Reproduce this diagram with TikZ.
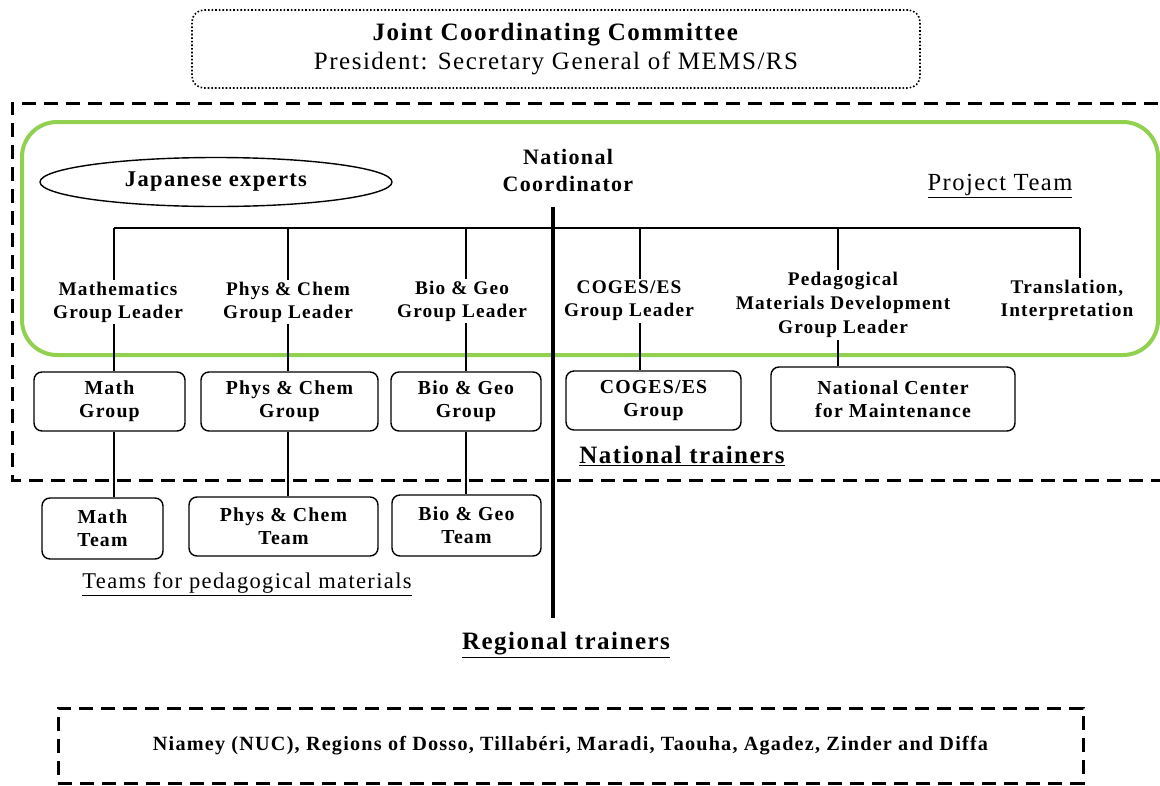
\documentclass[tikz,border=0pt]{standalone}
\usepackage{fontspec}
\setmainfont{Liberation Serif}[LetterSpace=6]
\usetikzlibrary{shapes.geometric, positioning}
\definecolor{teamgreen}{RGB}{146,208,80}
\tikzset{
    leader/.style={align=center, inner sep=2pt, font=\fontsize{19.3}{23}\selectfont\bfseries},
    groupbox/.style={rectangle, rounded corners=8pt, draw, line width=1.4pt, align=center, inner sep=2pt, font=\fontsize{19.8}{23}\selectfont\bfseries},
    conn/.style={line width=1.3pt},
    ncline/.style={line width=4.5pt},
    dashframe/.style={line width=3pt, dash pattern=on 14pt off 8pt},
    teamframe/.style={draw=teamgreen, line width=4pt, rounded corners=35pt},
    heading/.style={inner sep=1pt, font=\fontsize{25}{28}\selectfont\bfseries},
}

\begin{document}
\begin{tikzpicture}[x=1pt, y=-1pt]
\useasboundingbox (0,0) rectangle (1160,785);

% Committee at the top
\node[rectangle, draw, dotted, line width=1.6pt, rounded corners=12pt, minimum width=728pt, minimum height=78pt, align=center, font=\fontsize{25}{29}\selectfont] (jcc) at (556,49) {\textbf{Joint Coordinating Committee}\\President: Secretary General of MEMS/RS};

% National trainers frame and project team frame
\draw[dashframe] (1180,103) -- (12,103) -- (12,480) -- (1180,480);
\draw[teamframe] (22,122) rectangle (1158,355);

% Project team
\node[ellipse, draw, line width=1.4pt, minimum width=352pt, minimum height=49pt, font=\fontsize{22.5}{25}\selectfont\bfseries] (jpexp) at (216,182) {Japanese experts};
\node[leader, font=\fontsize{22}{27}\selectfont\bfseries] (natcoord) at (568,170) {National\\Coordinator};
\node[inner sep=1pt, font=\fontsize{24.6}{28}\selectfont] (projteam) at (1000,186) {\underline{Project Team}};

\node[leader] (mathlead) at (118,302) {Mathematics\\Group Leader};
\node[leader] (physlead) at (288,302) {Phys \& Chem\\Group Leader};
\node[leader] (biolead) at (462,301) {Bio \& Geo\\Group Leader};
\node[leader] (cogeslead) at (629,301) {COGES/ES\\Group Leader};
\node[leader, font=\fontsize{19.3}{24}\selectfont\bfseries] (pedalead) at (843,305) {Pedagogical\\Materials Development\\Group Leader};
\node[leader] (translead) at (1067,300) {Translation,\\Interpretation};

% Groups
\node[groupbox, minimum width=151pt, minimum height=59pt] (mathgroup) at (109.5,401.5) {Math\\Group};
\node[groupbox, minimum width=177pt, minimum height=59pt] (physgroup) at (289.5,401.5) {Phys \& Chem\\Group};
\node[groupbox, minimum width=150pt, minimum height=59pt] (biogroup) at (466,401.5) {Bio \& Geo\\Group};
\node[groupbox, minimum width=175pt, minimum height=59pt] (cogesgroup) at (653.5,400.5) {COGES/ES\\Group};
\node[groupbox, minimum width=244pt, minimum height=64pt] (natcenter) at (893,399) {National Center\\for Maintenance};

% Teams
\node[groupbox, minimum width=121pt, minimum height=61pt] (mathteam) at (102.5,528.5) {Math\\Team};
\node[groupbox, minimum width=189pt, minimum height=59pt] (physteam) at (283.5,526.5) {Phys \& Chem\\Team};
\node[groupbox, minimum width=149pt, minimum height=61pt] (bioteam) at (466.5,525.5) {Bio \& Geo\\Team};

% Labels
\node[inner sep=1pt, font=\fontsize{22.5}{25}\selectfont] (teamsped) at (247,584) {\underline{Teams for pedagogical materials}};
\node[heading] (nattrainers) at (682,456) {\underline{National trainers}};
\node[heading] (regtrainers) at (566,645) {\underline{Regional trainers}};

% Regions
\node[rectangle, draw, dashframe, minimum width=1025pt, minimum height=75pt, font=\fontsize{20.2}{22}\selectfont\bfseries] (regions) at (570.5,745.5) {Niamey (NUC), Regions of Dosso, Tillabéri, Maradi, Taouha, Agadez, Zinder and Diffa};

% Connectors
\coordinate (bus-math) at (114,228);
\coordinate (bus-phys) at (288,228);
\coordinate (bus-bio) at (466,228);
\coordinate (bus-coges) at (640,228);
\coordinate (bus-peda) at (838,228);
\coordinate (bus-trans) at (1080,228);
\draw[conn] (bus-math) -- (bus-trans);
\foreach \c/\n in {math/mathlead, phys/physlead, bio/biolead, coges/cogeslead, peda/pedalead, trans/translead}
    \draw[conn] (bus-\c) -- (bus-\c |- \n.north);
\foreach \c/\n/\g in {math/mathlead/mathgroup, phys/physlead/physgroup, bio/biolead/biogroup, coges/cogeslead/cogesgroup, peda/pedalead/natcenter}
    \draw[conn] (bus-\c |- \n.south) -- (bus-\c |- \g.north);
\foreach \c/\g/\t in {math/mathgroup/mathteam, phys/physgroup/physteam, bio/biogroup/bioteam}
    \draw[conn] (bus-\c |- \g.south) -- (bus-\c |- \t.north);

% National coordinator line
\coordinate (nc-top) at (553,207);
\coordinate (nc-foot) at (553,618);
\draw[ncline] (nc-top) -- (nc-foot);

\end{tikzpicture}
\end{document}
